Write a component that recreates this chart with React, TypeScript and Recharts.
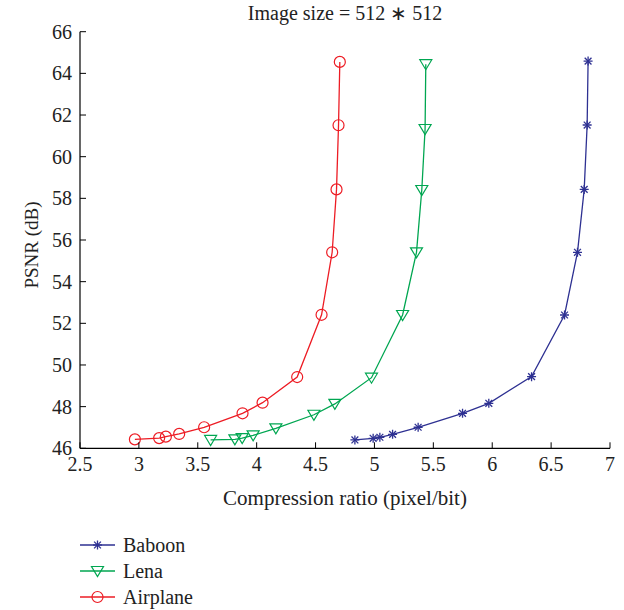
import { LineChart, Line, XAxis, YAxis, Legend } from 'recharts';

const xTicks = [2.5, 3, 3.5, 4, 4.5, 5, 5.5, 6, 6.5, 7];
const yTicks = [46, 48, 50, 52, 54, 56, 58, 60, 62, 64, 66];

const baboonRatio = [4.834, 4.989, 5.046, 5.154, 5.371, 5.748, 5.971, 6.334, 6.614, 6.724, 6.781, 6.806, 6.814];
const baboonPsnr = [46.4, 46.48, 46.53, 46.67, 47.01, 47.68, 48.16, 49.44, 52.4, 55.41, 58.43, 61.52, 64.59];

const lenaRatio = [3.609, 3.815, 3.877, 3.97, 4.163, 4.486, 4.664, 4.975, 5.239, 5.357, 5.402, 5.43, 5.436];
const lenaPsnr = [46.4, 46.43, 46.49, 46.62, 46.96, 47.61, 48.13, 49.39, 52.4, 55.41, 58.4, 61.33, 64.44];

const airplaneRatio = [2.966, 3.172, 3.229, 3.342, 3.554, 3.88, 4.05, 4.344, 4.551, 4.641, 4.678, 4.695, 4.706];
const airplanePsnr = [46.43, 46.49, 46.56, 46.69, 47.01, 47.68, 48.19, 49.42, 52.41, 55.41, 58.43, 61.51, 64.55];

const FONT = '"Liberation Serif", "Times New Roman", serif';
const COLORS = { baboon: '#2e3192', lena: '#00a651', airplane: '#ed1c24' };

const toRows = (xs: number[], ys: number[]) => xs.map((x, i) => ({ x, y: ys[i] }));

const series = [
  { name: 'Baboon', color: COLORS.baboon, marker: 'star', data: toRows(baboonRatio, baboonPsnr) },
  { name: 'Lena', color: COLORS.lena, marker: 'tri', data: toRows(lenaRatio, lenaPsnr) },
  { name: 'Airplane', color: COLORS.airplane, marker: 'circle', data: toRows(airplaneRatio, airplanePsnr) },
];

function Marker({ cx, cy, type, color }: { cx: number; cy: number; type: string; color: string }) {
  if (type === 'star') {
    const a = 4.5;
    const d = 3.4;
    return (
      <g stroke={color} strokeWidth={1.3} fill="none">
        <line x1={cx - a} y1={cy} x2={cx + a} y2={cy} />
        <line x1={cx} y1={cy - a} x2={cx} y2={cy + a} />
        <line x1={cx - d} y1={cy - d} x2={cx + d} y2={cy + d} />
        <line x1={cx - d} y1={cy + d} x2={cx + d} y2={cy - d} />
      </g>
    );
  }
  if (type === 'tri') {
    return (
      <polygon
        points={`${cx - 6},${cy - 4.5} ${cx + 6},${cy - 4.5} ${cx},${cy + 5.5}`}
        stroke={color}
        strokeWidth={1.2}
        fill="none"
      />
    );
  }
  return <circle cx={cx} cy={cy} r={5.5} stroke={color} strokeWidth={1.2} fill="none" />;
}

const BottomTick = (props: any) => {
  const { x, y, payload } = props;
  return (
    <g>
      <line x1={x} y1={y} x2={x} y2={y - 6} stroke="#000" strokeWidth={1} />
      <text x={x} y={y + 23} textAnchor="middle" fontFamily={FONT} fontSize={20} fill="#222">
        {payload.value}
      </text>
    </g>
  );
};

const TopTick = (props: any) => {
  const { x, y } = props;
  return <line x1={x} y1={y} x2={x} y2={y + 6} stroke="#000" strokeWidth={1} />;
};

const LeftTick = (props: any) => {
  const { x, y, payload } = props;
  return (
    <g>
      <line x1={x} y1={y} x2={x + 6} y2={y} stroke="#000" strokeWidth={1} />
      <text x={x - 8} y={y + 7} textAnchor="end" fontFamily={FONT} fontSize={20} fill="#222">
        {payload.value}
      </text>
    </g>
  );
};

const RightTick = (props: any) => {
  const { x, y } = props;
  return <line x1={x - 6} y1={y} x2={x} y2={y} stroke="#000" strokeWidth={1} />;
};

const LegendBox = () => (
  <div style={{ fontFamily: FONT, fontSize: 20, color: '#222' }}>
    {series.map((s) => (
      <div key={s.name} style={{ display: 'flex', alignItems: 'center', height: 26 }}>
        <svg width={45} height={26}>
          <line x1={2} y1={13} x2={37} y2={13} stroke={s.color} strokeWidth={1.3} />
          <Marker cx={19.5} cy={13} type={s.marker} color={s.color} />
        </svg>
        <span>{s.name}</span>
      </div>
    ))}
  </div>
);

export default function App() {
  return (
    <div style={{ position: 'absolute', left: 0, top: 0, width: 624, height: 610, background: '#fff' }}>
      <div
        style={{
          position: 'absolute',
          left: 0,
          top: 1,
          width: 690,
          textAlign: 'center',
          fontFamily: FONT,
          fontSize: 20,
          lineHeight: '24px',
          color: '#222',
        }}
      >
        Image size = 512 ∗ 512
      </div>
      <LineChart width={624} height={610} margin={{ top: 31.7, right: 14, bottom: 121.7, left: 0 }}>
        <XAxis
          xAxisId={0}
          type="number"
          dataKey="x"
          domain={[2.5, 7]}
          ticks={xTicks}
          allowDataOverflow
          height={40}
          tickSize={0}
          tickMargin={0}
          tickLine={false}
          tick={BottomTick}
          axisLine={{ stroke: '#000', strokeWidth: 1.2 }}
          label={{
            content: (p: any) => (
              <text
                x={p.viewBox.x + p.viewBox.width / 2}
                y={p.viewBox.y + 57}
                textAnchor="middle"
                fontFamily={FONT}
                fontSize={21}
                fill="#222"
              >
                Compression ratio (pixel/bit)
              </text>
            ),
          }}
        />
        <XAxis
          xAxisId="top"
          orientation="top"
          type="number"
          domain={[2.5, 7]}
          ticks={xTicks}
          allowDataOverflow
          height={0}
          tickSize={0}
          tickMargin={0}
          tickLine={false}
          tick={TopTick}
          axisLine={{ stroke: '#000', strokeWidth: 1.2 }}
        />
        <YAxis
          yAxisId={0}
          type="number"
          domain={[46, 66]}
          ticks={yTicks}
          allowDataOverflow
          width={80}
          tickSize={0}
          tickMargin={0}
          tickLine={false}
          tick={LeftTick}
          axisLine={{ stroke: '#000', strokeWidth: 1.2 }}
          label={{
            content: (p: any) => {
              const cy = p.viewBox.y + p.viewBox.height / 2 + 5;
              return (
                <text
                  x={38}
                  y={cy}
                  transform={`rotate(-90 38 ${cy})`}
                  textAnchor="middle"
                  fontFamily={FONT}
                  fontSize={19}
                  fill="#222"
                >
                  PSNR (dB)
                </text>
              );
            },
          }}
        />
        <YAxis
          yAxisId="right"
          orientation="right"
          type="number"
          domain={[46, 66]}
          ticks={yTicks}
          allowDataOverflow
          width={0}
          tickSize={0}
          tickMargin={0}
          tickLine={false}
          tick={RightTick}
          axisLine={{ stroke: '#000', strokeWidth: 1.2 }}
        />
        <Legend
          layout="vertical"
          align="center"
          verticalAlign="middle"
          content={LegendBox}
          wrapperStyle={{ position: 'absolute', left: 78, top: 532, width: 200, height: 80 }}
        />
        {series.map((s) => (
          <Line
            key={s.name}
            name={s.name}
            data={s.data}
            dataKey="y"
            xAxisId={0}
            yAxisId={0}
            stroke={s.color}
            strokeWidth={1.3}
            isAnimationActive={false}
            dot={(p: any) => <Marker key={`${s.name}-${p.index}`} cx={p.cx} cy={p.cy} type={s.marker} color={s.color} />}
            activeDot={false}
          />
        ))}
      </LineChart>
    </div>
  );
}
